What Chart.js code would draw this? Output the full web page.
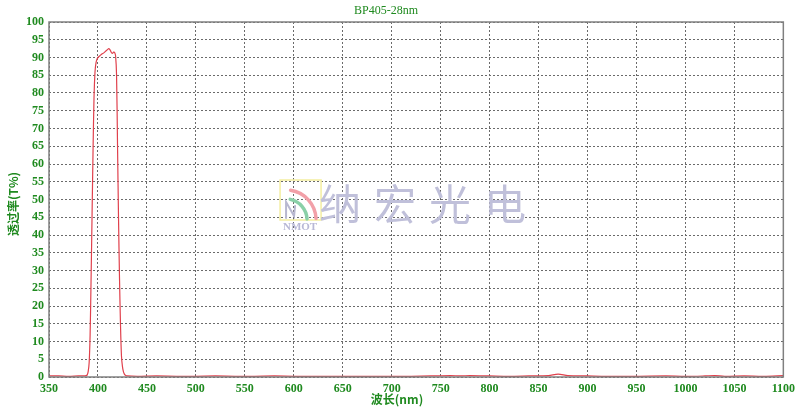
<!DOCTYPE html>
<html>
<head>
<meta charset="utf-8">
<script src="https://cdn.jsdelivr.net/npm/chart.js@4"></script>
<style>
html,body{margin:0;padding:0;background:#fff;}
#wrap{width:800px;height:411px;position:relative;}
</style>
</head>
<body>
<div id="wrap"><canvas id="c" width="800" height="411"></canvas></div>
<script>
const chartTitle = "BP405-28nm";
const xAxisLabel = "波长(nm)";
const yAxisLabel = "透过率(T%)";
const watermarkText = "纳宏光电";
const watermarkLogo = "NMOT";

const wavelengths = [350,360,370,380,385,388,389,390,391,392,393,394,395,396,397,398,399,400,402,404,406,408,410,411,412,413,414,415,416,417,418,419,420,421,422,423,424,425,426,427,428,430,440,460,480,500,520,540,560,580,600,620,650,680,700,720,740,760,770,780,800,820,840,860,870,880,900,920,950,980,1000,1020,1030,1040,1060,1080,1100];
const transmission = [0.3,0.3,0.2,0.3,0.3,0.4,0.6,1.5,4,12,28,46,64,79,86,88.5,89.5,90,90.5,91,91.3,91.8,92.3,92.5,92.3,91.8,91.3,91.2,91.5,91.4,90.5,85,65,45,28,15,6,3,1.5,0.8,0.5,0.3,0.2,0.3,0.2,0.2,0.3,0.2,0.2,0.3,0.2,0.2,0.2,0.2,0.2,0.2,0.3,0.4,0.3,0.4,0.3,0.2,0.3,0.4,0.8,0.4,0.3,0.2,0.2,0.3,0.2,0.3,0.4,0.2,0.3,0.2,0.4];

const xMin = 350, xMax = 1100, xStep = 50;
const yMin = 0, yMax = 100, yStep = 5;

const green = "#1f8a1f";
const tickFont = {family: "'Liberation Serif', 'Times New Roman', serif", size: 12, weight: 'bold'};

const decor = {
  id: 'decor',
  beforeDatasetsDraw(chart) {
    const ctx = chart.ctx;
    const xs = chart.scales.x, ys = chart.scales.y;
    ctx.save();
    const lx = xs.getPixelForValue(586), ly = ys.getPixelForValue(55.5);
    ctx.strokeStyle = "#f4eea0"; ctx.lineWidth = 1.5;
    ctx.beginPath();
    ctx.rect(lx, ly, 41, 40);
    ctx.stroke();
    ctx.lineWidth = 3.5; ctx.lineCap = 'round';
    ctx.strokeStyle = "#f2a0a8";
    ctx.beginPath(); ctx.arc(lx + 6, ly + 40, 30, -Math.PI/2 + 0.15, -0.05); ctx.stroke();
    ctx.strokeStyle = "#8ad0a8";
    ctx.beginPath(); ctx.arc(lx + 6, ly + 40, 21, -Math.PI/2 + 0.2, -0.05); ctx.stroke();
    ctx.strokeStyle = "#b8b8d0"; ctx.lineWidth = 2;
    ctx.beginPath(); ctx.moveTo(lx+6, ly+38); ctx.lineTo(lx+6, ly+22); ctx.lineTo(lx+14, ly+36); ctx.lineTo(lx+15, ly+26); ctx.stroke();
    ctx.fillStyle = "#b8b8d6";
    ctx.font = "bold 11px 'Liberation Serif', serif";
    ctx.textAlign = 'center'; ctx.textBaseline = 'middle';
    ctx.fillText(watermarkLogo, lx + 20, ly + 47);
    ctx.fillStyle = "#c0c0da";
    ctx.font = "400 42px 'Noto Sans CJK SC', sans-serif";
    ctx.textAlign = 'center';
    const chars = Array.from(watermarkText);
    chars.forEach((ch, i) => ctx.fillText(ch, lx + 60 + i * 55, ly + 24));
    ctx.restore();
  },
  afterDraw(chart) {
    const ctx = chart.ctx, a = chart.chartArea;
    ctx.save();
    ctx.strokeStyle = "#808080"; ctx.lineWidth = 1.5;
    ctx.strokeRect(a.left, a.top, a.right - a.left, a.bottom - a.top);
    ctx.fillStyle = green;
    ctx.textAlign = 'center'; ctx.textBaseline = 'middle';
    ctx.font = "12px 'Liberation Serif', serif";
    ctx.fillText(chartTitle, 386, 11);
    ctx.font = "bold 12px 'Noto Sans CJK SC', 'Liberation Serif', serif";
    ctx.fillText(xAxisLabel, 397, 399);
    ctx.translate(13, 204); ctx.rotate(-Math.PI/2);
    ctx.fillText(yAxisLabel, 0, 0);
    ctx.restore();
  }
};

new Chart(document.getElementById('c'), {
  type: 'line',
  data: {
    datasets: [{
      data: wavelengths.map((w, i) => ({x: w, y: transmission[i]})),
      borderColor: "#e0404c",
      borderWidth: 1.2,
      pointRadius: 0,
      tension: 0.3,
      fill: false
    }]
  },
  options: {
    responsive: false,
    animation: false,
    layout: {padding: {top: 22, right: 16, left: 0, bottom: 0}},
    plugins: {legend: {display: false}, tooltip: {enabled: false}},
    scales: {
      x: {
        type: 'linear', min: xMin, max: xMax,
        border: {display: false, dash: [2, 2]},
        grid: {color: "#6a6a6a", lineWidth: 1, drawTicks: false},
        ticks: {stepSize: xStep, color: green, font: tickFont, padding: 5, maxRotation: 0, autoSkip: false,
                callback: v => String(v)},
        afterFit(s) { s.height = 34; }
      },
      y: {
        type: 'linear', min: yMin, max: yMax,
        border: {display: false, dash: [2, 2]},
        grid: {color: "#6a6a6a", lineWidth: 1, drawTicks: false},
        ticks: {stepSize: yStep, color: green, font: tickFont, padding: 5, autoSkip: false,
                callback: v => String(v)},
        afterFit(s) { s.width = 49; }
      }
    }
  },
  plugins: [decor]
});
</script>
</body>
</html>
